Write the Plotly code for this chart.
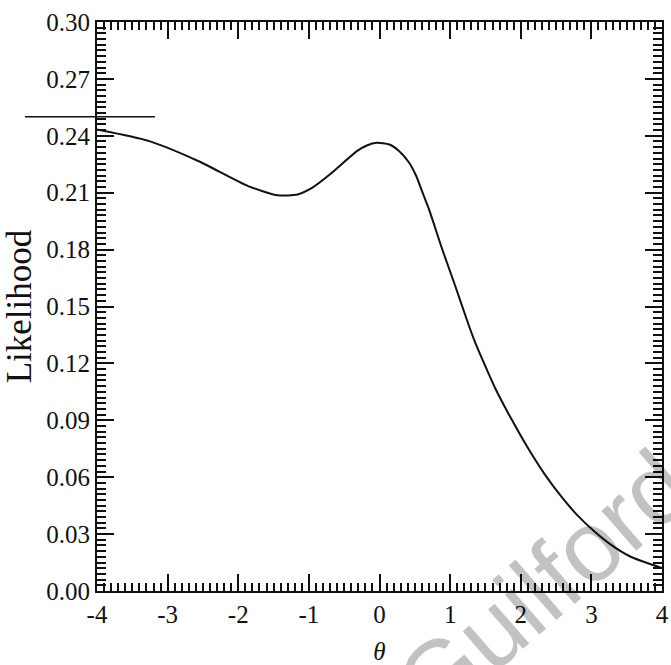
import plotly.graph_objects as go

# Data
theta = [-4.0, -3.26, -2.56, -1.86, -1.44, -1.16, -0.95, -0.70, -0.32, -0.18, -0.04,
         0.14, 0.28, 0.42, 0.52, 0.61, 0.70, 0.89, 1.08, 1.26, 1.36, 1.54, 1.64,
         1.87, 2.10, 2.34, 2.57, 2.80, 3.04, 3.27, 3.55, 4.0]
likelihood = [0.2433, 0.2372, 0.2266, 0.2135, 0.2086, 0.2091, 0.2127, 0.2197, 0.2319,
              0.2349, 0.2363, 0.2354, 0.2319, 0.2258, 0.2188, 0.2100, 0.2013, 0.1800,
              0.1600, 0.1405, 0.1305, 0.1150, 0.1068, 0.0905, 0.0755, 0.0615, 0.0500,
              0.0400, 0.0315, 0.0246, 0.0182, 0.0121]

x_tickvals = [-4, -3, -2, -1, 0, 1, 2, 3, 4]
x_ticktext = ["-4", "-3", "-2", "-1", "0", "1", "2", "3", "4"]
y_tickvals = [0.00, 0.03, 0.06, 0.09, 0.12, 0.15, 0.18, 0.21, 0.24, 0.27, 0.30]

ref_level = 0.25              # horizontal reference line value
ref_x_range = [-5.02, -3.18]  # its horizontal extent in theta units
x_range = [-4, 4]
y_range = [0, 0.30]

fig = go.Figure()
fig.add_trace(go.Scatter(x=theta, y=likelihood, mode="lines",
                         line=dict(color="#111111", width=2, shape="spline", smoothing=0.6),
                         showlegend=False, hoverinfo="skip"))

def to_paper_x(v):
    return (v - x_range[0]) / (x_range[1] - x_range[0])

fig.add_shape(type="line", xref="paper", yref="paper",
              x0=to_paper_x(ref_x_range[0]), x1=to_paper_x(ref_x_range[1]),
              y0=ref_level / y_range[1], y1=ref_level / y_range[1],
              line=dict(color="#111111", width=1.5))

serif = "Liberation Serif"
axis_common = dict(showline=True, linecolor="#111111", linewidth=2, mirror="allticks",
                   ticks="inside", tickcolor="#111111", tickwidth=1.6, ticklen=17,
                   showgrid=False, zeroline=False, ticklabeloverflow="allow",
                   tickfont=dict(family=serif, size=25, color="#111111"))

fig.update_xaxes(range=x_range, tickvals=x_tickvals, ticktext=x_ticktext,
                 minor=dict(dtick=0.1, ticks="inside", ticklen=8, tickwidth=1.5,
                            tickcolor="#111111", showgrid=False),
                 title=dict(text="<i>θ</i>", font=dict(family=serif, size=25, color="#111111"),
                            standoff=17),
                 **axis_common)
fig.update_yaxes(range=y_range, tickvals=y_tickvals, tickformat=".2f",
                 minor=dict(dtick=0.003, ticks="inside", ticklen=9, tickwidth=1.6,
                            tickcolor="#111111", showgrid=False),
                 title=dict(text="Likelihood", font=dict(family=serif, size=35, color="#111111"),
                            standoff=6),
                 **axis_common)

fig.add_annotation(text="Guilford", xref="paper", yref="paper", x=0.79, y=0.01,
                   xanchor="center", yanchor="middle", showarrow=False, textangle=-41,
                   font=dict(family="Liberation Sans", size=100,
                             color="rgba(0,0,0,0.24)"))

fig.update_layout(width=671, height=665, margin=dict(l=97, r=2, t=22, b=72),
                  paper_bgcolor="white", plot_bgcolor="white")

fig.write_html("out.html")
